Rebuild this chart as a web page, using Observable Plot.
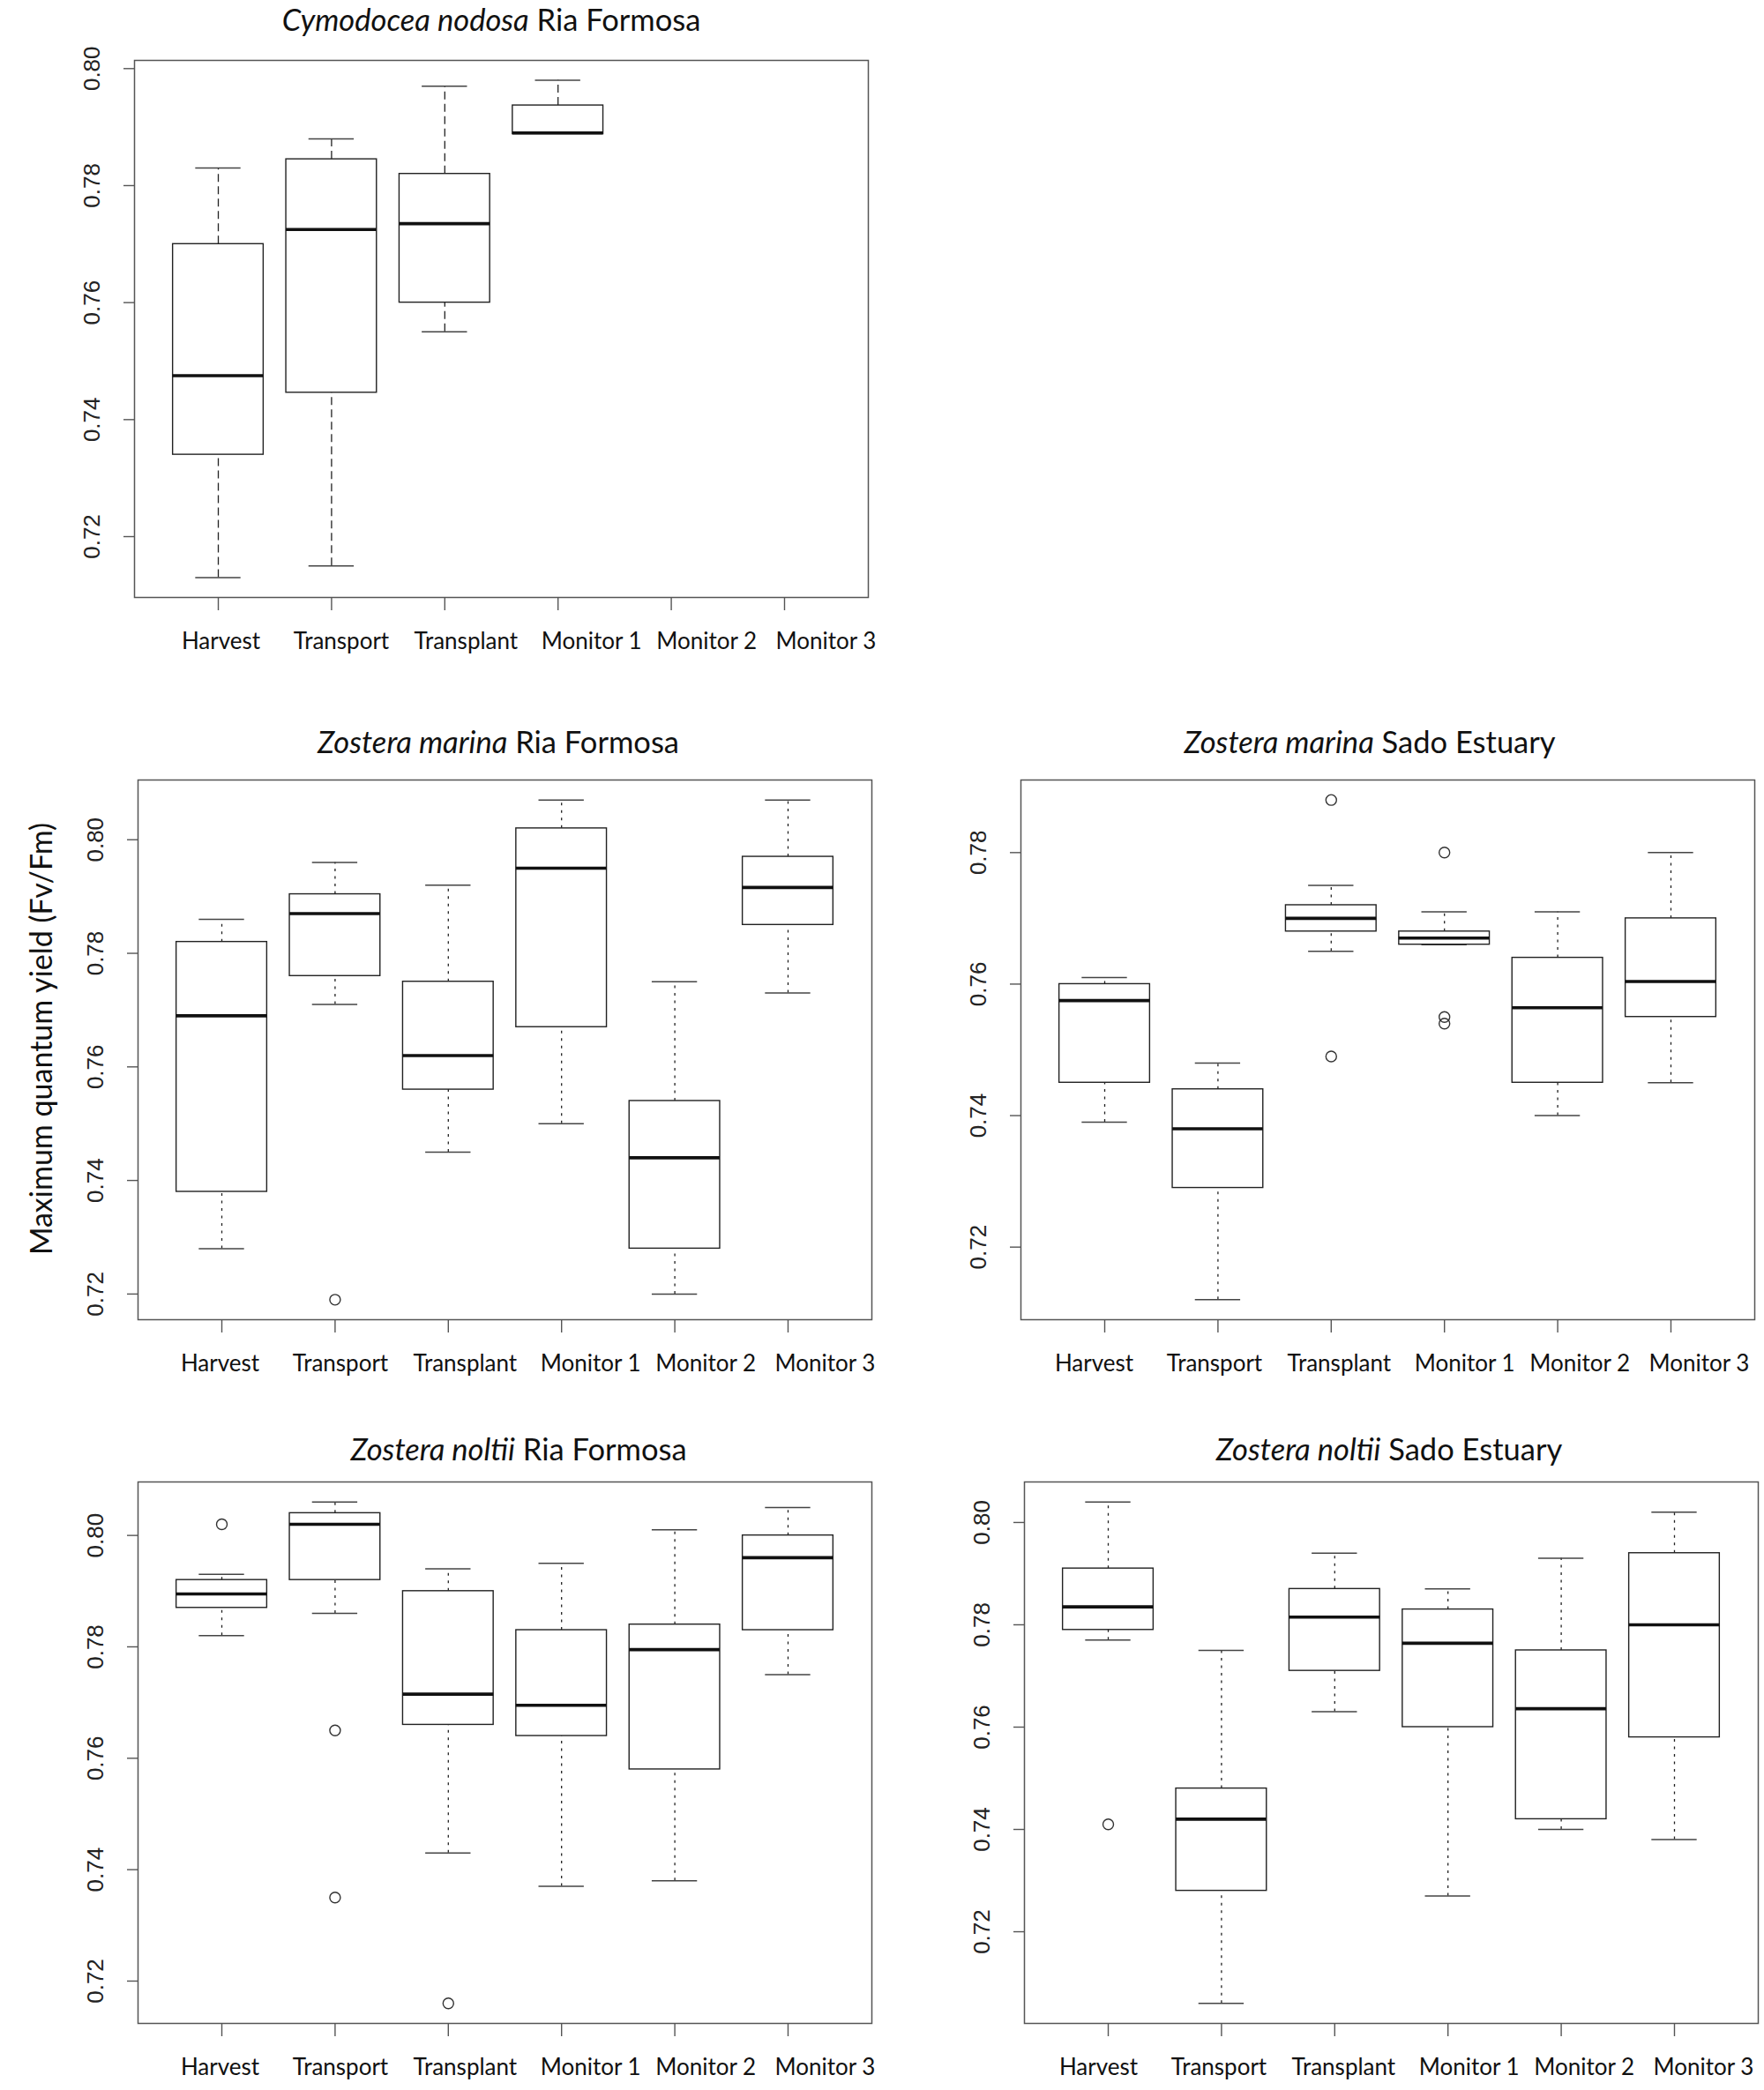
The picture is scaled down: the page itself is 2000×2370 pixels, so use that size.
<!DOCTYPE html>
<html><head><meta charset="utf-8">
<script src="https://cdn.jsdelivr.net/npm/d3@7"></script>
<script src="https://cdn.jsdelivr.net/npm/@observablehq/plot@0.6"></script>
<style>
body{margin:0;background:#fff;}
#root{position:relative;width:2000px;height:2370px;background:#fff;overflow:hidden;}
.panel{position:absolute;}
.title{position:absolute;font-family:Lato,sans-serif;font-size:34.5px;color:#111;white-space:nowrap;transform:translate(-50%,-50%);line-height:1;}
.ylab{position:absolute;font-family:Lato,sans-serif;font-size:34px;color:#111;white-space:nowrap;transform:translate(-50%,-50%) rotate(-90deg);line-height:1;}
</style></head><body><div id="root"></div>
<script>
const categories = ["Harvest","Transport","Transplant","Monitor 1","Monitor 2","Monitor 3"];
const yTicks = [0.72,0.74,0.76,0.78,0.80];

// Cymodocea nodosa – Ria Formosa
const cnRF_lower  = [0.713, 0.715, 0.755, 0.789, null, null];
const cnRF_q1     = [0.734, 0.7446, 0.760, 0.7888, null, null];
const cnRF_median = [0.7475, 0.7725, 0.7735, 0.789, null, null];
const cnRF_q3     = [0.770, 0.7845, 0.782, 0.7937, null, null];
const cnRF_upper  = [0.783, 0.788, 0.797, 0.798, null, null];
const cnRF_outCat = [];
const cnRF_outVal = [];

// Zostera marina – Ria Formosa
const zmRF_lower  = [0.728, 0.771, 0.745, 0.750, 0.720, 0.773];
const zmRF_q1     = [0.738, 0.776, 0.756, 0.767, 0.728, 0.785];
const zmRF_median = [0.769, 0.787, 0.762, 0.795, 0.744, 0.7916];
const zmRF_q3     = [0.782, 0.7904, 0.775, 0.802, 0.754, 0.797];
const zmRF_upper  = [0.786, 0.796, 0.792, 0.807, 0.775, 0.807];
const zmRF_outCat = ["Transport"];
const zmRF_outVal = [0.719];

// Zostera marina – Sado Estuary
const zmSE_lower  = [0.739, 0.712, 0.765, 0.766, 0.740, 0.745];
const zmSE_q1     = [0.745, 0.729, 0.768, 0.766, 0.745, 0.755];
const zmSE_median = [0.7575, 0.738, 0.770, 0.767, 0.7564, 0.7604];
const zmSE_q3     = [0.760, 0.744, 0.772, 0.768, 0.764, 0.770];
const zmSE_upper  = [0.761, 0.748, 0.775, 0.771, 0.771, 0.780];
const zmSE_outCat = ["Transplant","Transplant","Monitor 1","Monitor 1","Monitor 1"];
const zmSE_outVal = [0.788, 0.749, 0.780, 0.755, 0.754];

// Zostera noltii – Ria Formosa
const znRF_lower  = [0.782, 0.786, 0.743, 0.737, 0.738, 0.775];
const znRF_q1     = [0.787, 0.792, 0.766, 0.764, 0.758, 0.783];
const znRF_median = [0.7895, 0.802, 0.7715, 0.7695, 0.7795, 0.796];
const znRF_q3     = [0.792, 0.804, 0.790, 0.783, 0.784, 0.800];
const znRF_upper  = [0.793, 0.806, 0.794, 0.795, 0.801, 0.805];
const znRF_outCat = ["Harvest","Transport","Transport","Transplant"];
const znRF_outVal = [0.802, 0.765, 0.735, 0.716];

// Zostera noltii – Sado Estuary
const znSE_lower  = [0.777, 0.706, 0.763, 0.727, 0.740, 0.738];
const znSE_q1     = [0.779, 0.728, 0.771, 0.760, 0.742, 0.758];
const znSE_median = [0.7835, 0.742, 0.7815, 0.7764, 0.7636, 0.780];
const znSE_q3     = [0.791, 0.748, 0.787, 0.783, 0.775, 0.794];
const znSE_upper  = [0.804, 0.775, 0.794, 0.787, 0.793, 0.802];
const znSE_outCat = ["Harvest"];
const znSE_outVal = [0.741];

// layout (pixels): label nudges as in the reference artwork
const labelNudge = [-2, 6, 19, 33, 35, 42];

const root = document.getElementById("root");
const ML = 140, MR = 14, MT = 14, MB = 90, W = 832;

function drawPanel(p) {
  const H = p.height;
  const rows = categories.map((c, i) => ({i: i + 1, lo: p.lower[i], q1: p.q1[i], med: p.median[i], q3: p.q3[i], hi: p.upper[i]}))
    .filter(d => d.med != null);
  const outs = p.outCat.map((c, k) => ({i: categories.indexOf(c) + 1, v: p.outVal[k]}));
  const all = rows.flatMap(d => [d.lo, d.hi]).concat(p.outVal);
  const mn = d3.min(all), mx = d3.max(all), ext = (mx - mn) * 0.04;
  const domain = [mn - ext, mx + ext];
  const ticks = yTicks.filter(t => t >= domain[0] && t <= domain[1]);
  const bw = 0.4, sw = 0.2;
  const line = "#222";
  const unit = W / 6.48;
  const labels = categories.map((c, i) => ({c, i: i + 1 + (labelNudge[i] + p.labelShift) / unit}));
  const chart = Plot.plot({
    width: W + ML + MR, height: H + MT + MB,
    marginLeft: ML, marginRight: MR, marginTop: MT, marginBottom: MB,
    x: {type: "linear", domain: [0.26, 6.74]},
    y: {domain},
    style: {background: "transparent", overflow: "visible"},
    marks: [
      Plot.axisX({ticks: [1, 2, 3, 4, 5, 6], tickSize: 15, tickFormat: () => "", stroke: "#555", strokeWidth: 1.4, label: null}),
      Plot.axisY({ticks, tickSize: 12, tickFormat: () => "", stroke: "#555", strokeWidth: 1.4, label: null}),
      Plot.text(labels, {x: "i", text: "c", frameAnchor: "bottom", dy: 50,
        fontFamily: "Lato", fontSize: 26, fill: "#111", lineAnchor: "middle", textAnchor: "middle"}),
      Plot.text(ticks, {y: d => d, text: d => d.toFixed(2), frameAnchor: "left", dx: -48, rotate: -90,
        fontFamily: "Liberation Sans", fontSize: 26, fill: "#222", textAnchor: "middle", lineAnchor: "middle"}),
      Plot.ruleX(rows, {x: "i", y1: "q3", y2: "hi", stroke: line, strokeWidth: 1.3, strokeDasharray: p.dash}),
      Plot.ruleX(rows, {x: "i", y1: "lo", y2: "q1", stroke: line, strokeWidth: 1.3, strokeDasharray: p.dash}),
      Plot.ruleY(rows, {y: "hi", x1: d => d.i - sw, x2: d => d.i + sw, stroke: "#444", strokeWidth: 1.5}),
      Plot.ruleY(rows, {y: "lo", x1: d => d.i - sw, x2: d => d.i + sw, stroke: "#444", strokeWidth: 1.5}),
      Plot.rect(rows, {x1: d => d.i - bw, x2: d => d.i + bw, y1: "q1", y2: "q3", fill: "white", stroke: line, strokeWidth: 1.4}),
      Plot.ruleY(rows, {y: "med", x1: d => d.i - bw, x2: d => d.i + bw, stroke: "#111", strokeWidth: 3.6}),
      Plot.dot(outs, {x: "i", y: "v", r: 6, stroke: "#333", strokeWidth: 1.4, fill: "none"}),
      Plot.frame({stroke: "#555", strokeWidth: 1.5})
    ]
  });
  chart.classList.add("panel");
  chart.style.left = (p.left - ML) + "px";
  chart.style.top = (p.top - MT) + "px";
  root.appendChild(chart);
  const t = document.createElement("div");
  t.className = "title";
  t.innerHTML = p.title;
  t.style.left = p.titleX + "px";
  t.style.top = p.titleY + "px";
  root.appendChild(t);
}

drawPanel({lower: cnRF_lower, q1: cnRF_q1, median: cnRF_median, q3: cnRF_q3, upper: cnRF_upper, outCat: cnRF_outCat, outVal: cnRF_outVal,
  left: 152, top: 68, height: 609, dash: "9,5", labelShift: 5, titleX: 557, titleY: 22, title: "<i>Cymodocea nodosa</i> Ria Formosa"});
drawPanel({lower: zmRF_lower, q1: zmRF_q1, median: zmRF_median, q3: zmRF_q3, upper: zmRF_upper, outCat: zmRF_outCat, outVal: zmRF_outVal,
  left: 156, top: 884, height: 612, dash: "3,5.5", labelShift: 0, titleX: 565, titleY: 841, title: "<i>Zostera marina</i> Ria Formosa"});
drawPanel({lower: zmSE_lower, q1: zmSE_q1, median: zmSE_median, q3: zmSE_q3, upper: zmSE_upper, outCat: zmSE_outCat, outVal: zmSE_outVal,
  left: 1157, top: 884, height: 612, dash: "3,5.5", labelShift: -10, titleX: 1553, titleY: 841, title: "<i>Zostera marina</i> Sado Estuary"});
drawPanel({lower: znRF_lower, q1: znRF_q1, median: znRF_median, q3: znRF_q3, upper: znRF_upper, outCat: znRF_outCat, outVal: znRF_outVal,
  left: 156, top: 1680, height: 614, dash: "3,5.5", labelShift: 0, titleX: 588, titleY: 1643, title: "<i>Zostera noltii</i> Ria Formosa"});
drawPanel({lower: znSE_lower, q1: znSE_q1, median: znSE_median, q3: znSE_q3, upper: znSE_upper, outCat: znSE_outCat, outVal: znSE_outVal,
  left: 1161, top: 1680, height: 614, dash: "3,5.5", labelShift: -9, titleX: 1575, titleY: 1643, title: "<i>Zostera noltii</i> Sado Estuary"});

const yl = document.createElement("div");
yl.className = "ylab";
yl.textContent = "Maximum quantum yield (Fv/Fm)";
yl.style.left = "46px";
yl.style.top = "1178px";
root.appendChild(yl);
</script>
</body></html>
